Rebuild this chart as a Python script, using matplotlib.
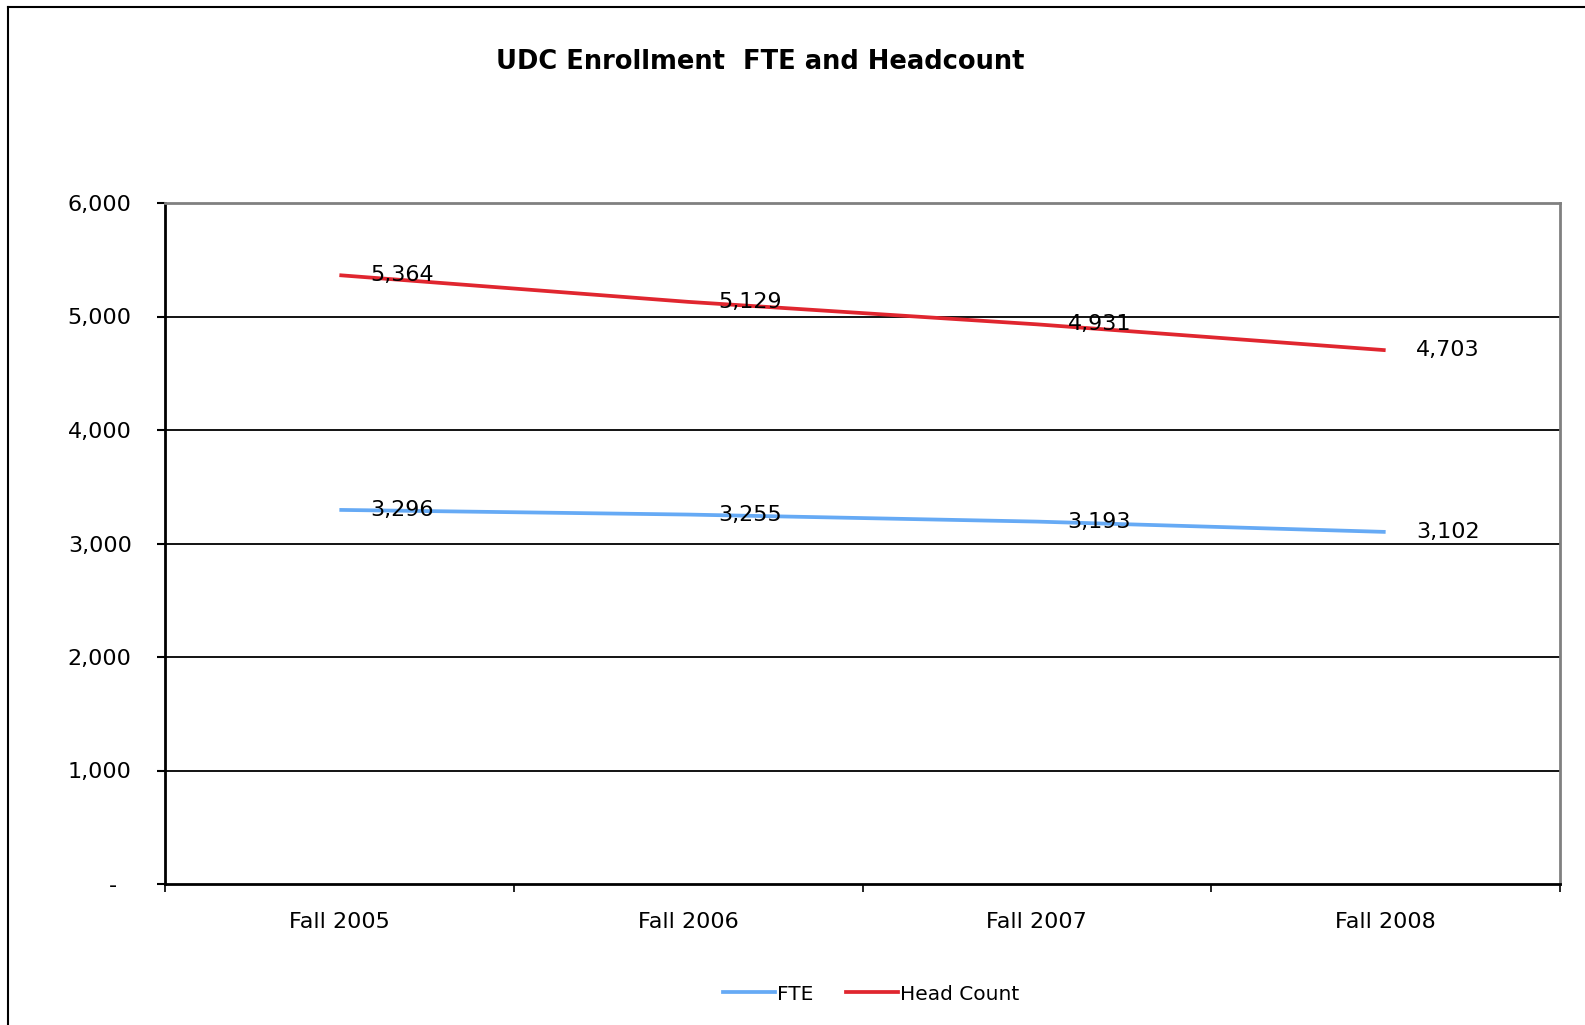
import matplotlib
matplotlib.use("Agg")
import matplotlib.pyplot as plt
from matplotlib.lines import Line2D

categories = ["Fall 2005", "Fall 2006", "Fall 2007", "Fall 2008"]
fte = [3296, 3255, 3193, 3102]
head_count = [5364, 5129, 4931, 4703]
y_ticks = [0, 1000, 2000, 3000, 4000, 5000, 6000]
y_tick_labels = ["-  ", "1,000", "2,000", "3,000", "4,000", "5,000", "6,000"]

blue = "#66AAF5"
red = "#E0262F"

fig = plt.figure(figsize=(15.85, 10.25), dpi=100)
ax = fig.add_axes([165 / 1585, 1 - 884 / 1025, (1560 - 165) / 1585, (884 - 203) / 1025])

x = list(range(len(categories)))
ax.plot(x, fte, color=blue, lw=2.7, solid_capstyle="butt", zorder=3)
ax.plot(x, head_count, color=red, lw=2.7, solid_capstyle="butt", zorder=3)

for xi, v in zip(x, fte):
    ax.annotate(f"{v:,}", (xi, v), xytext=(45, 0), textcoords="offset points",
                ha="center", va="center", fontsize=16, zorder=4)
for xi, v in zip(x, head_count):
    ax.annotate(f"{v:,}", (xi, v), xytext=(45, 0), textcoords="offset points",
                ha="center", va="center", fontsize=16, zorder=4)

ax.set_xlim(-0.5, 3.5)
ax.set_ylim(0, 6000)
ax.set_yticks(y_ticks)
ax.set_yticklabels(y_tick_labels, fontsize=16)
ax.tick_params(axis="y", direction="out", length=6, width=1.5, pad=18)
ax.set_xticks(x)
ax.set_xticklabels(categories, fontsize=16, fontweight="medium")
ax.tick_params(axis="x", which="major", length=0, pad=20)
ax.set_xticks([-0.5, 0.5, 1.5, 2.5, 3.5], minor=True)
ax.tick_params(axis="x", which="minor", direction="out", length=6, width=1.2)

for y in y_ticks[1:-1]:
    ax.axhline(y, color="black", lw=1.3, zorder=1)

ax.spines["left"].set_linewidth(2)
ax.spines["bottom"].set_linewidth(2)
ax.spines["top"].set_color("#808080")
ax.spines["top"].set_linewidth(2)
ax.spines["right"].set_color("#808080")
ax.spines["right"].set_linewidth(2)

fig.text(760 / 1585, 1 - 62 / 1025, "UDC Enrollment  FTE and Headcount",
         ha="center", va="center", fontsize=18.5, fontweight="bold")

handles = [Line2D([], [], color=blue, lw=2.7), Line2D([], [], color=red, lw=2.7)]
fig.legend(handles, ["FTE", "Head Count"], loc="center", bbox_to_anchor=(871 / 1585, 1 - 994 / 1025),
           ncol=2, frameon=False, fontsize=14.5, handlelength=2.6, handletextpad=0.1, columnspacing=1.6)

# outer frame (top and left visible)
fig.add_artist(Line2D([8 / 1585, 1], [1 - 7 / 1025, 1 - 7 / 1025], color="black", lw=1.5, transform=fig.transFigure))
fig.add_artist(Line2D([8 / 1585, 8 / 1585], [0, 1 - 7 / 1025], color="black", lw=1.5, transform=fig.transFigure))

fig.savefig("out.png", dpi=100)
